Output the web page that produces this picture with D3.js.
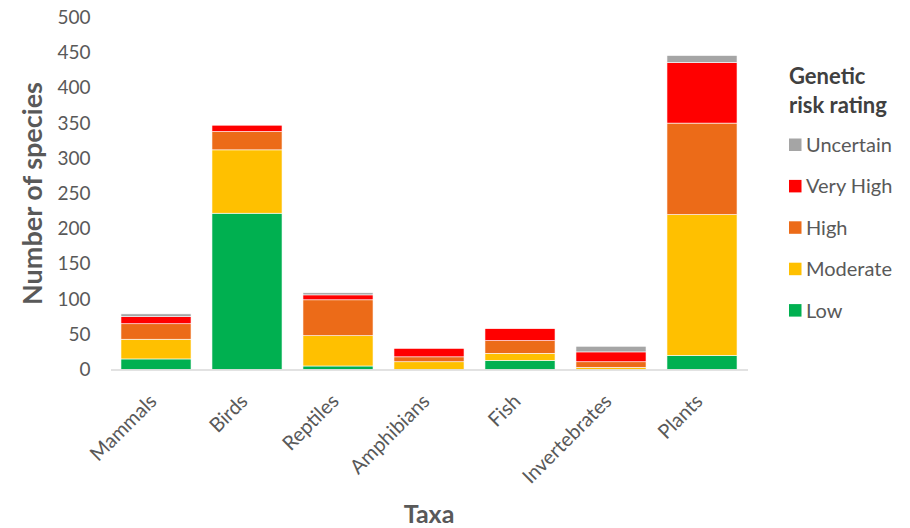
<!DOCTYPE html>
<html>
<head>
<meta charset="utf-8">
<script src="https://cdn.jsdelivr.net/npm/d3@7"></script>
<style>
  body { margin: 0; background: #fff; }
  svg text { font-family: Lato, "Open Sans", sans-serif; }
</style>
</head>
<body>
<svg id="chart" width="910" height="528"></svg>
<script>
// data
const taxa = ["Mammals", "Birds", "Reptiles", "Amphibians", "Fish", "Invertebrates", "Plants"];
const ratings = ["Low", "Moderate", "High", "Very High", "Uncertain"];
const low = [15, 222, 5, 0, 13, 0, 20];
const moderate = [28, 90, 43, 11, 10, 3, 200];
const high = [22, 26, 51, 7, 18, 8, 130];
const veryHigh = [10, 9, 7, 12, 17, 14, 86];
const uncertain = [4, 0, 3, 0, 0, 8, 10];
const yTicks = [0, 50, 100, 150, 200, 250, 300, 350, 400, 450, 500];
const colors = ["#00B050", "#FFC000", "#EC6B18", "#FF0000", "#A5A5A5"];

const rows = taxa.map((t, i) => ({
  taxon: t,
  "Low": low[i],
  "Moderate": moderate[i],
  "High": high[i],
  "Very High": veryHigh[i],
  "Uncertain": uncertain[i],
}));

const svg = d3.select("#chart");
const margin = { left: 110.5, right: 162.5, top: 17.5, bottom: 158.5 };
const W = 910, H = 528;

const x = d3.scaleBand().domain(taxa).range([margin.left, W - margin.right]).paddingInner(0.23).paddingOuter(0.115);
const y = d3.scaleLinear().domain([0, 500]).range([H - margin.bottom, margin.top]);
const color = d3.scaleOrdinal().domain(ratings).range(colors);

const stack = d3.stack().keys(ratings)(rows);

// bars
svg.append("g")
  .selectAll("g")
  .data(stack)
  .join("g")
  .attr("fill", (d) => color(d.key))
  .selectAll("rect")
  .data((d) => d)
  .join("rect")
  .attr("x", (d) => x(d.data.taxon))
  .attr("width", x.bandwidth())
  .attr("y", (d) => y(d[1]))
  .attr("height", (d) => y(d[0]) - y(d[1]))
  .attr("stroke", "#fff")
  .attr("stroke-width", 0.6)
  .attr("stroke-opacity", (d) => (d[1] - d[0] > 0 ? 1 : 0));

// y axis (labels only)
const yAxis = svg.append("g")
  .attr("transform", `translate(${margin.left - 20},0)`)
  .call(d3.axisLeft(y).tickValues(yTicks).tickSize(0).tickPadding(0));
yAxis.select(".domain").remove();
yAxis.selectAll("text").attr("fill", "#595959").style("font-size", "19px").attr("x", 0);

// x axis
const xAxis = svg.append("g")
  .attr("transform", `translate(0,${y(0)})`)
  .call(d3.axisBottom(x).tickSize(0).tickPadding(0));
xAxis.select(".domain").attr("stroke", "#D9D9D9").attr("stroke-width", 1.5);
xAxis.selectAll("text")
  .attr("fill", "#595959")
  .style("font-size", "20px")
  .attr("text-anchor", "end")
  .attr("dy", null)
  .attr("y", 0)
  .attr("transform", "translate(2,33) rotate(-45)");

// axis titles
svg.append("text")
  .attr("transform", `translate(42,${(y(0) + y(500)) / 2}) rotate(-90)`)
  .attr("text-anchor", "middle")
  .attr("fill", "#595959")
  .style("font-size", "27px")
  .style("font-weight", "bold")
  .text("Number of species");

svg.append("text")
  .attr("x", (margin.left + W - margin.right) / 2)
  .attr("y", 523)
  .attr("text-anchor", "middle")
  .attr("fill", "#595959")
  .style("font-size", "25px")
  .style("font-weight", "bold")
  .text("Taxa");

// legend
const lg = svg.append("g").attr("transform", "translate(789,0)");
lg.append("text")
  .attr("fill", "#404040")
  .style("font-size", "22px")
  .style("font-weight", "bold")
  .selectAll("tspan")
  .data(["Genetic", "risk rating"])
  .join("tspan")
  .attr("x", 0)
  .attr("y", (d, i) => 84 + i * 29)
  .text((d) => d);

const legendOrder = ratings.slice().reverse();
const item = lg.selectAll("g.item")
  .data(legendOrder)
  .join("g")
  .attr("class", "item")
  .attr("transform", (d, i) => `translate(0,${145 + i * 41.4})`);
item.append("rect").attr("x", 0).attr("y", -6.5).attr("width", 12.5).attr("height", 12.5).attr("fill", (d) => color(d));
item.append("text")
  .attr("x", 17)
  .attr("dy", "0.35em")
  .attr("fill", "#595959")
  .style("font-size", "20px")
  .text((d) => d);
</script>
</body>
</html>
